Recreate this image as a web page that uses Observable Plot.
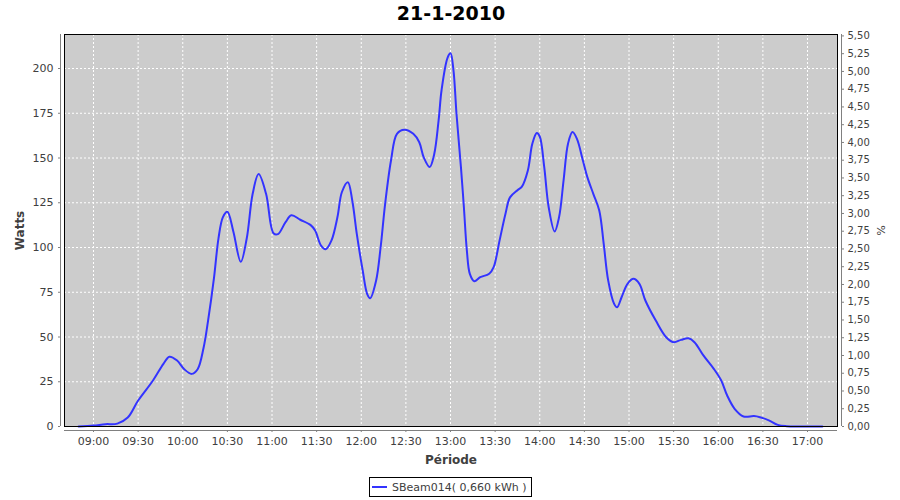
<!DOCTYPE html>
<html>
<head>
<meta charset="utf-8">
<script src="https://cdn.jsdelivr.net/npm/d3@7"></script>
<script src="https://cdn.jsdelivr.net/npm/@observablehq/plot@0.6"></script>
<style>
  html, body { margin: 0; padding: 0; background: #ffffff; }
  #wrap { position: relative; width: 900px; height: 500px; overflow: hidden; font-family: "DejaVu Sans", sans-serif; }
  #legend {
    position: absolute; left: 369px; top: 477px; width: 161px; height: 18px;
    border: 1px solid #000; background: #fff; display: flex; align-items: center;
    font-size: 11px; color: #404040; box-sizing: content-box;
  }
  #legend .sw { display: inline-block; width: 15px; height: 2px; background: #3333ff; margin-left: 2px; margin-right: 5px; }
</style>
</head>
<body>
<div id="wrap">
  <div id="chart"></div>
  <div id="legend"><span class="sw"></span><span id="legtext"></span></div>
</div>
<script>
// ---- data ----
const chartTitle = "21-1-2010";
const seriesName = "SBeam014( 0,660 kWh )";
const times = [
  "08:50","09:00","09:08","09:16","09:23","09:30","09:40","09:47","09:51","09:56",
  "10:01","10:06","10:10","10:14","10:17","10:21","10:24","10:27","10:30","10:34",
  "10:39","10:43","10:47","10:51","10:56","11:01","11:04","11:09","11:13","11:19",
  "11:26","11:29","11:33","11:36","11:40","11:44","11:47","11:51","11:54","11:57",
  "12:01","12:04","12:06","12:10","12:13","12:16","12:20","12:24","12:29","12:35",
  "12:39","12:42","12:46","12:49","12:52","12:54","12:58","13:00","13:02","13:04",
  "13:07","13:09","13:11","13:13","13:16","13:20","13:26","13:29","13:33","13:37",
  "13:40","13:45","13:48","13:52","13:55","13:58","14:00","14:03","14:06","14:10",
  "14:13","14:16","14:19","14:22","14:25","14:29","14:32","14:36","14:40","14:43",
  "14:46","14:50","14:52","14:55","14:59","15:03","15:07","15:11","15:18","15:25",
  "15:30","15:35","15:40","15:44","15:50","15:57","16:02","16:06","16:11","16:17",
  "16:24","16:28","16:34","16:40","16:46","17:10"
];
const watts = [
  0, 0.5, 1.3, 1.6, 5, 14.5, 25.7, 35, 39, 37,
  32, 29.4, 32, 44, 59, 83, 105, 117, 120, 109,
  92, 105, 130, 141, 130, 108, 107.5, 114, 118, 115.5,
  112.5, 109.5, 101, 99, 104, 117, 131, 136.5, 126, 107.6,
  87, 74, 71.7, 81.6, 100, 124, 148.6, 163.5, 165.8, 163.5,
  158.8, 150.4, 145, 152, 171, 188, 206, 208.5, 199, 175,
  145, 122.5, 98.3, 85.3, 81.2, 83.4, 85.3, 89, 104, 119,
  128, 132, 134, 143, 158, 164, 162, 145, 122.5, 109,
  117, 137.4, 158, 164.5, 160.7, 148.6, 139.3, 130, 120.7, 102,
  81.6, 68.5, 66.6, 72.2, 79.7, 82.5, 79.7, 70.4, 59.2, 49.9,
  47.1, 48.4, 49.3, 47.1, 39.7, 32.2, 25.7, 17.3, 9.9, 5.6,
  5.8, 5.2, 3.4, 0.9, 0.2, 0
];
const wattTicks = [0, 25, 50, 75, 100, 125, 150, 175, 200];
const pctTicks = [0,0.25,0.5,0.75,1,1.25,1.5,1.75,2,2.25,2.5,2.75,3,3.25,3.5,3.75,4,4.25,4.5,4.75,5,5.25,5.5];
const timeTicks = ["09:00","09:30","10:00","10:30","11:00","11:30","12:00","12:30","13:00","13:30","14:00","14:30","15:00","15:30","16:00","16:30","17:00"];
const axisLabels = { y: "Watts", y2: "%", x: "Période" };

// ---- axis ranges ----
const wattsMax = 219;
const pctMax = 5.52;
const toDate = s => { const [h, m] = s.split(":").map(Number); return new Date(2010, 0, 21, h, m); };
const xDomain = [new Date(2010, 0, 21, 8, 40, 30), new Date(2010, 0, 21, 17, 20, 10)];

const data = times.map((t, i) => ({ t: toDate(t), w: watts[i] }));
const xTickDates = timeTicks.map(toDate);
const pctFmt = v => (v * pctMax / wattsMax).toFixed(2).replace(".", ",");

document.getElementById("legtext").textContent = seriesName;

const gridStyle = { stroke: "#ffffff", strokeOpacity: 1, strokeWidth: 1, strokeDasharray: "2,2" };

const chart = Plot.plot({
  width: 900,
  height: 500,
  marginLeft: 64,
  marginRight: 63,
  marginTop: 34,
  marginBottom: 74,
  style: { fontFamily: "DejaVu Sans, sans-serif", fontSize: "11px", background: "transparent", overflow: "visible" },
  x: { type: "time", domain: xDomain },
  y: { domain: [0, wattsMax] },
  marks: [
    Plot.frame({ fill: "#cccccc", stroke: null }),
    Plot.gridX(xTickDates, gridStyle),
    Plot.gridY(wattTicks.filter(v => v > 0), gridStyle),
    Plot.line(data, { x: "t", y: "w", stroke: "#3333ff", strokeWidth: 2, curve: "catmull-rom" }),
    Plot.frame({ stroke: "#000000", strokeWidth: 1 }),
    // axis lines
    Plot.ruleX([xDomain[0]], { dx: -4, stroke: "#808080" }),
    Plot.ruleX([xDomain[1]], { dx: 4, stroke: "#808080" }),
    Plot.ruleY([0], { dy: 4, stroke: "#808080" }),
    // axes
    Plot.axisY(wattTicks, { anchor: "left", dx: -4, tickSize: 2, tickPadding: 5, stroke: "#808080", fill: "#404040", label: null }),
    Plot.axisY(pctTicks.map(p => p * wattsMax / pctMax), { anchor: "right", dx: 4, tickSize: 2, tickPadding: 4, tickFormat: pctFmt, stroke: "#808080", fill: "#404040", fontSize: 10, label: null }),
    Plot.axisX(xTickDates, { anchor: "bottom", dy: 4, tickSize: 2, tickPadding: 5, tickFormat: d3.timeFormat("%H:%M"), stroke: "#808080", fill: "#404040", label: null }),
    // titles
    Plot.text([chartTitle], { text: d => d, frameAnchor: "top", dy: -20.5, fontSize: 19, fontWeight: "bold", fill: "#000000", textAnchor: "middle", lineAnchor: "middle" }),
    Plot.text([axisLabels.y], { text: d => d, frameAnchor: "left", dx: -44, rotate: -90, fontSize: 12, fontWeight: "bold", fill: "#404040", textAnchor: "middle", lineAnchor: "middle" }),
    Plot.text([axisLabels.y2], { text: d => d, frameAnchor: "right", dx: 43, rotate: 90, fontSize: 11, fill: "#404040", textAnchor: "middle", lineAnchor: "middle" }),
    Plot.text([axisLabels.x], { text: d => d, frameAnchor: "bottom", dy: 34, fontSize: 12, fontWeight: "bold", fill: "#404040", textAnchor: "middle", lineAnchor: "middle" })
  ]
});
document.getElementById("chart").appendChild(chart);
</script>
</body>
</html>
